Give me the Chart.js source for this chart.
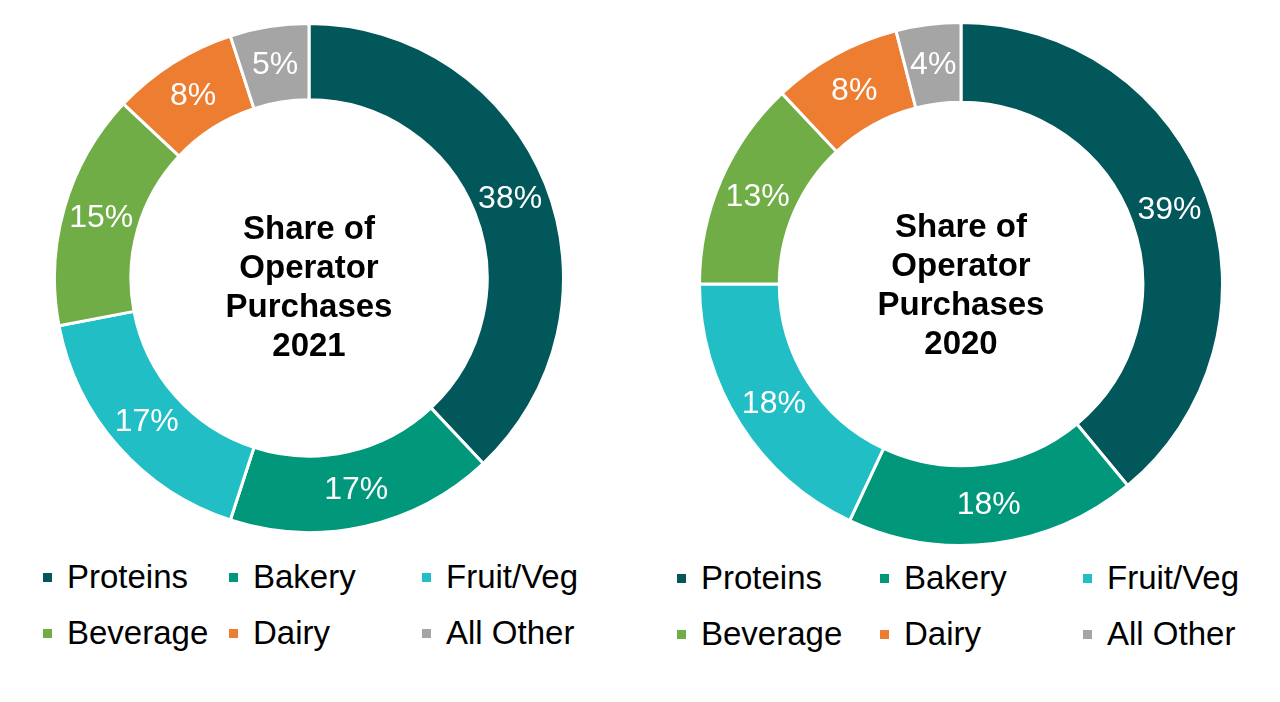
<!DOCTYPE html>
<html>
<head>
<meta charset="utf-8">
<script src="https://cdn.jsdelivr.net/npm/chart.js@4.4.1/dist/chart.umd.min.js"></script>
<style>
  body { margin: 0; background: #fff; width: 1280px; height: 702px; position: relative; overflow: hidden;
         font-family: "Liberation Sans", Arial, sans-serif; }
  .box { position: absolute; }
  .center { position: absolute; text-align: center; font-weight: bold; font-size: 33px; line-height: 39px; color: #000; }
  .item { position: absolute; font-size: 33px; color: #000; white-space: nowrap; line-height: 30px; }
  .item span { display: inline-block; width: 9px; height: 9px; margin-right: 15px; vertical-align: middle; position: relative; top: -2px; }
</style>
</head>
<body>
<div class="box" id="b1" style="left:53px; top:22px; width:512px; height:512px;"><canvas id="c2021"></canvas></div>
<div class="box" id="b2" style="left:698px; top:21px; width:526px; height:526px;"><canvas id="c2020"></canvas></div>
<div class="center" style="left:159px; top:208px; width:300px;">Share of<br>Operator<br>Purchases<br>2021</div>
<div class="center" style="left:811px; top:206px; width:300px;">Share of<br>Operator<br>Purchases<br>2020</div>
<div id="leg1"></div>
<div id="leg2"></div>
<script>
const categories = ['Proteins', 'Bakery', 'Fruit/Veg', 'Beverage', 'Dairy', 'All Other']
const share2021 = [38, 17, 17, 15, 8, 5]
const share2020 = [39, 18, 18, 13, 8, 4]
const colors = ['#02575A', '#00977A', '#22BEC6', '#70AD47', '#ED7D31', '#A5A5A5']

// draw the % labels in the middle of each slice
const sliceLabels = {
    id: 'sliceLabels',
    afterDatasetsDraw(chart) {
        const ctx = chart.ctx
        const meta = chart.getDatasetMeta(0)
        ctx.save()
        ctx.fillStyle = '#fff'
        ctx.font = '32px "Liberation Sans", Arial, sans-serif'
        ctx.textAlign = 'center'
        ctx.textBaseline = 'middle'
        meta.data.forEach((arc, i) => {
            const p = arc.getCenterPoint()
            ctx.fillText(chart.data.datasets[0].data[i] + '%', p.x, p.y + 1)
        })
        ctx.restore()
    },
}

function drawDonut(id, values, cutout) {
    new Chart(id, {
        type: 'doughnut',
        data: {
            labels: categories,
            datasets: [{
                data: values,
                backgroundColor: colors,
                borderColor: '#fff',
                borderWidth: 3,
            }],
        },
        options: {
            responsive: true,
            maintainAspectRatio: false,
            animation: false,
            cutout: cutout,
            layout: { padding: 0 },
            plugins: { legend: { display: false }, tooltip: { enabled: false } },
        },
        plugins: [sliceLabels],
    })
}

drawDonut('c2021', share2021, '70%')
drawDonut('c2020', share2020, '69.5%')

function drawLegend(el, cols, rows) {
    const host = document.getElementById(el)
    categories.forEach((name, i) => {
        const d = document.createElement('div')
        d.className = 'item'
        d.style.left = cols[i % 3] + 'px'
        d.style.top = rows[Math.floor(i / 3)] + 'px'
        d.innerHTML = '<span style="background:' + colors[i] + '"></span>' + name
        host.appendChild(d)
    })
}

drawLegend('leg1', [43, 229, 422], [562, 618])
drawLegend('leg2', [677, 880, 1083], [563, 619])
</script>
</body>
</html>
